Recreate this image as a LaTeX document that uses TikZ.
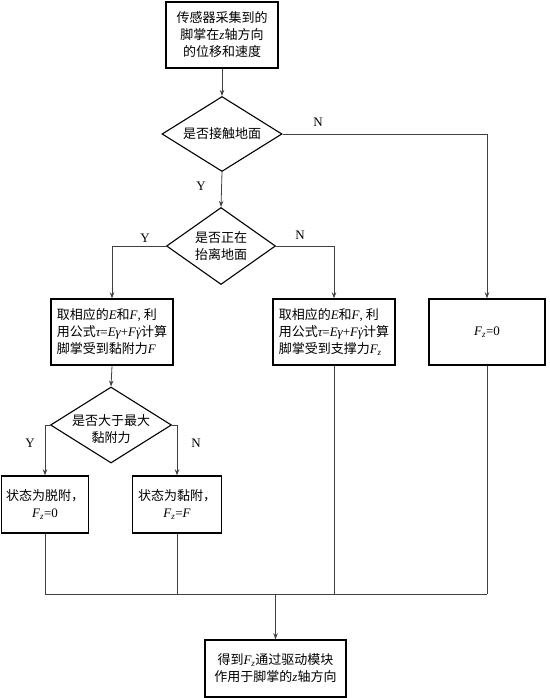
\documentclass[tikz,border=0pt]{standalone}
\usepackage{fontspec}
\setmainfont{Liberation Serif}
\newfontfamily\cjk{Noto Sans CJK SC}
\usetikzlibrary{shapes.geometric,arrows.meta}
\newcommand\vi[1]{{\rmfamily\itshape #1}}
\newcommand\Fz{\vi{F}\textsubscript{\vi{z}}}
\newcommand\gdot{\vi{γ}\llap{\vi{˙}\kern0.04em}}
\newcommand\formula{\vi{τ}{\rmfamily =}\vi{Eγ}{\rmfamily +}\vi{F}\gdot}
\begin{document}
\begin{tikzpicture}[x=1pt,y=-1pt,
  every node/.style={font=\cjk\fontsize{13}{17}\selectfont},
  box/.style={draw=black,line width=1.4pt,rectangle,inner sep=0pt,align=center},
  lbox/.style={box,align=left},
  dia/.style={draw=black,line width=1.1pt,diamond,inner sep=0pt},
  txt/.style={inner sep=0pt,align=center},
  lab/.style={inner sep=0pt,font=\rmfamily\fontsize{13}{15}\selectfont},
  conn/.style={draw=black!75,line width=0.8pt},
  arr/.style={conn,-{Stealth[length=6pt,width=4.5pt]}}]
\useasboundingbox (0,0) rectangle (549,698);
% boxes
\node[box,minimum width=112pt,minimum height=66pt] (b1) at (222,35)
  {传感器采集到的\\脚掌在\vi{z}轴方向\\的位移和速度};
\node[dia,minimum width=120pt,minimum height=75pt] (d1) at (222,134) {};
\node[txt] (t1) at (d1) {是否接触地面};
\node[dia,minimum width=109pt,minimum height=77pt] (d2) at (221,246) {};
\node[txt] (t2) at (d2) {是否正在\\抬离地面};
\node[lbox,minimum width=122pt,minimum height=66pt] (b2) at (112,332)
  {取相应的\vi{E}和\vi{F}{\rmfamily,} 利\\用公式\formula 计算\\脚掌受到黏附力\vi{F}};
\node[lbox,minimum width=122pt,minimum height=66pt] (b3) at (334,332)
  {取相应的\vi{E}和\vi{F}{\rmfamily,} 利\\用公式\formula 计算\\脚掌受到支撑力\Fz};
\node[box,minimum width=116pt,minimum height=66pt] (b4) at (487,332) {\Fz{\rmfamily =0}};
\node[dia,minimum width=121pt,minimum height=76pt] (d3) at (111,425) {};
\node[txt] (t3) at (111,429) {是否大于最大\\黏附力};
\node[box,minimum width=87pt,minimum height=57pt] (b5) at (45,504.5) {状态为脱附，\\\Fz{\rmfamily =0}};
\node[box,minimum width=89pt,minimum height=57pt] (b6) at (177,504.5) {状态为黏附，\\\Fz{\rmfamily =}\vi{F}};
\node[box,minimum width=141pt,minimum height=57pt] (b7) at (275.5,668.5)
  {得到\Fz 通过驱动模块\\作用于脚掌的\vi{z}轴方向};
% junction points
\coordinate (j5) at (b5.south |- 0,594);
\coordinate (j6) at (b6.south |- 0,594);
\coordinate (j3) at (b3.south |- 0,594);
\coordinate (j4) at (b4.south |- 0,594);
\coordinate (jm) at (b7.north |- 0,594);
% connectors
\draw[arr] (b1) -- (d1.north);
\draw[arr] (d1.east) -| (b4.north);
\draw[arr] (d1.south) -- (d2.north);
\draw[arr] (d2.west) -| (b2.north);
\draw[arr] (d2.east) -| (b3.north);
\draw[arr] (b2.south) -- (d3.north);
\draw[arr] (d3.west) -| (b5.north);
\draw[arr] (d3.east) -| (b6.north);
\draw[conn] (b5.south) -- (j5);
\draw[conn] (b6.south) -- (j6);
\draw[conn] (b3.south) -- (j3);
\draw[conn] (b4.south) -- (j4);
\draw[conn] (j5) -- (j4);
\draw[arr] (jm) -- (b7.north);
% labels
\node[lab] (n1) at (318,122) {N};
\node[lab] (y1) at (201,186) {Y};
\node[lab] (y2) at (145,238) {Y};
\node[lab] (n2) at (300,235) {N};
\node[lab] (y3) at (30,443) {Y};
\node[lab] (n3) at (196,443) {N};
\end{tikzpicture}
\end{document}
